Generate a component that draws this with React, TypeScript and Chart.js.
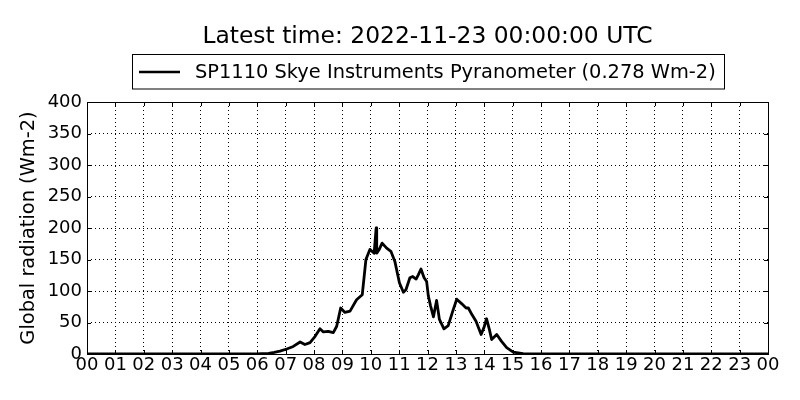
import React, { useEffect, useRef } from "react";
import { Chart, registerables } from "chart.js";

Chart.register(...registerables);

const titleText = "Latest time: 2022-11-23 00:00:00 UTC";
const seriesLabel = "SP1110 Skye Instruments Pyranometer (0.278 Wm-2)";
const yAxisTitle = "Global radiation (Wm-2)";

const hours = [
  0, 6.0, 6.15, 6.4, 6.6, 6.8, 7.04, 7.27, 7.51, 7.68, 7.86, 8.04, 8.21, 8.33, 8.5,
  8.68, 8.8, 8.94, 9.09, 9.27, 9.5, 9.7, 9.83, 9.97, 10.12, 10.19, 10.21, 10.3, 10.4,
  10.56, 10.71, 10.85, 11.01, 11.15, 11.24, 11.38, 11.48, 11.6, 11.68, 11.77, 11.88,
  11.97, 12.03, 12.11, 12.21, 12.32, 12.42, 12.58, 12.73, 12.89, 13.03, 13.2, 13.36,
  13.44, 13.56, 13.71, 13.89, 13.99, 14.08, 14.18, 14.26, 14.44, 14.61, 14.79, 15.02,
  15.37, 15.6, 24,
];
const radiation = [
  0, 0, 0.5, 1, 2.5, 4.5, 8, 12, 19, 15, 18, 28, 40, 35, 36,
  34, 44, 73, 66, 68, 86, 94, 150, 166, 160, 200, 160, 166, 176,
  168, 163, 147, 113, 98, 102, 121, 123, 119, 126, 135, 121,
  115, 92, 76, 59, 85, 55, 40, 45, 68, 87, 80, 73,
  73, 63, 52, 31, 42, 56, 39, 23, 31, 20, 10, 3,
  0.5, 0, 0,
];
const yTicks = [0, 50, 100, 150, 200, 250, 300, 350, 400];
const xTickLabels = [
  "00", "01", "02", "03", "04", "05", "06", "07", "08", "09", "10", "11", "12",
  "13", "14", "15", "16", "17", "18", "19", "20", "21", "22", "23", "00",
];

const FONT = '"DejaVu Sans", sans-serif';

const decorPlugin = {
  id: "decor",
  afterDraw(chart: any) {
    const ctx = chart.ctx as CanvasRenderingContext2D;
    const area = chart.chartArea;
    const xs = chart.scales.x;
    const ys = chart.scales.y;
    ctx.save();
    // frame
    ctx.strokeStyle = "#000";
    ctx.lineWidth = 1;
    ctx.setLineDash([]);
    ctx.strokeRect(
      Math.round(area.left) + 0.5,
      Math.round(area.top) + 0.5,
      Math.round(area.right - area.left),
      Math.round(area.bottom - area.top)
    );
    // inner ticks
    ctx.beginPath();
    xs.ticks.forEach((t: any) => {
      const x = Math.round(xs.getPixelForValue(t.value)) + 0.5;
      ctx.moveTo(x, area.bottom);
      ctx.lineTo(x, area.bottom - 4);
      ctx.moveTo(x, area.top);
      ctx.lineTo(x, area.top + 4);
    });
    ys.ticks.forEach((t: any) => {
      const y = Math.round(ys.getPixelForValue(t.value)) + 0.5;
      ctx.moveTo(area.left, y);
      ctx.lineTo(area.left + 4, y);
      ctx.moveTo(area.right, y);
      ctx.lineTo(area.right - 4, y);
    });
    ctx.stroke();

    // title
    ctx.fillStyle = "#000";
    ctx.font = "23.4px " + FONT;
    ctx.textAlign = "center";
    ctx.textBaseline = "alphabetic";
    ctx.fillText(titleText, (area.left + area.right) / 2, 42.5);

    // legend
    ctx.font = "19.4px " + FONT;
    ctx.textAlign = "left";
    const tw = ctx.measureText(seriesLabel).width;
    const boxLeft = 132.5;
    const textX = 195;
    const boxRight = Math.round(textX + tw + 8) + 0.5;
    ctx.lineWidth = 1;
    ctx.strokeRect(boxLeft, 54.5, boxRight - boxLeft, 34.5);
    ctx.fillText(seriesLabel, textX, 78);
    ctx.lineWidth = 2.6;
    ctx.beginPath();
    ctx.moveTo(139, 72);
    ctx.lineTo(180, 72);
    ctx.stroke();

    // y-axis title
    ctx.save();
    ctx.translate(29, (area.top + area.bottom) / 2);
    ctx.rotate(-Math.PI / 2);
    ctx.font = "19.4px " + FONT;
    ctx.textAlign = "center";
    ctx.textBaseline = "middle";
    ctx.fillText(yAxisTitle, 0, 0);
    ctx.restore();

    ctx.restore();
  },
};

export default function App() {
  const canvasRef = useRef<HTMLCanvasElement | null>(null);

  useEffect(() => {
    document.body.style.margin = "0";
    const canvas = canvasRef.current;
    if (!canvas) return;
    const points = hours.map((h, i) => ({ x: h, y: radiation[i] }));
    const chart = new Chart(canvas, {
      type: "line",
      data: {
        datasets: [
          {
            label: seriesLabel,
            data: points,
            borderColor: "#000",
            backgroundColor: "#000",
            borderWidth: 2.8,
            pointRadius: 0,
            tension: 0,
            borderJoinStyle: "round",
            borderCapStyle: "round",
            fill: false,
          },
        ],
      },
      options: {
        animation: false,
        responsive: false,
        devicePixelRatio: 1,
        layout: { padding: { left: 0, right: 32, top: 102, bottom: 0 } },
        plugins: {
          legend: { display: false },
          title: { display: false },
          tooltip: { enabled: false },
        },
        scales: {
          x: {
            type: "linear",
            min: 0,
            max: 24,
            afterFit(scale: any) {
              scale.height = 46;
            },
            afterBuildTicks(scale: any) {
              scale.ticks = xTickLabels.map((_, i) => ({ value: i }));
            },
            ticks: {
              autoSkip: false,
              maxRotation: 0,
              padding: 1,
              color: "#000",
              font: { family: FONT, size: 18 },
              callback: (v: any) => xTickLabels[Number(v)] ?? "",
            },
            grid: {
              color: "#000",
              lineWidth: 1,
              drawTicks: false,
            },
            border: { display: false, dash: [1, 3] },
          },
          y: {
            min: 0,
            max: 400,
            afterFit(scale: any) {
              scale.width = 87;
            },
            afterBuildTicks(scale: any) {
              scale.ticks = yTicks.map((v) => ({ value: v }));
            },
            ticks: {
              padding: 5,
              color: "#000",
              font: { family: FONT, size: 18 },
              callback: (v: any) => String(v),
            },
            grid: {
              color: "#000",
              lineWidth: 1,
              drawTicks: false,
            },
            border: { display: false, dash: [1, 3] },
          },
        },
      },
      plugins: [decorPlugin],
    });
    return () => chart.destroy();
  }, []);

  return (
    <div style={{ position: "absolute", left: 0, top: 0, width: 800, height: 400, background: "#fff" }}>
      <canvas ref={canvasRef} width={800} height={400} style={{ width: 800, height: 400 }} />
    </div>
  );
}
